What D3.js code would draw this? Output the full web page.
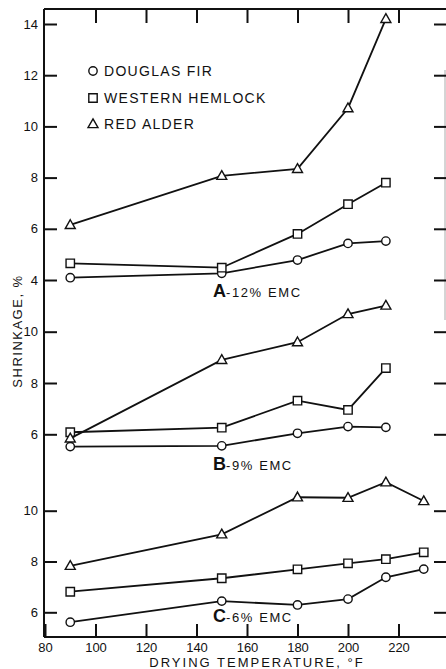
<!DOCTYPE html>
<html>
<head>
<meta charset="utf-8">
<script src="https://cdn.jsdelivr.net/npm/d3@7"></script>
<style>
    html, body { margin: 0; padding: 0; background: #fff; }
    #chart { width: 446px; height: 669px; }
    text { font-family: "Liberation Sans", "DejaVu Sans", Arial, sans-serif; fill: #111; }
</style>
</head>
<body>
<div id="chart"></div>
<script>
// Drying temperature, deg F
const temps = [90, 150, 180, 200, 215, 230];
const xTicks = [80, 100, 120, 140, 160, 180, 200, 220];

const species = ['DOUGLAS FIR', 'WESTERN HEMLOCK', 'RED ALDER'];
const markers = ['circle', 'square', 'triangle'];

// A - 12% EMC (no 230 F run)
const firA = [4.09, 4.26, 4.78, 5.43, 5.52];
const hemlockA = [4.65, 4.48, 5.80, 6.96, 7.80];
const alderA = [6.15, 8.07, 8.34, 10.71, 14.2];
const ticksA = [4, 6, 8, 10, 12, 14];

// B - 9% EMC
const firB = [5.52, 5.55, 6.04, 6.30, 6.27];
const hemlockB = [6.08, 6.26, 7.31, 6.95, 8.58];
const alderB = [5.84, 8.90, 9.59, 10.69, 11.02];
const ticksB = [6, 8, 10];

// C - 6% EMC
const firC = [5.61, 6.44, 6.29, 6.52, 7.38, 7.70];
const hemlockC = [6.81, 7.34, 7.69, 7.93, 8.09, 8.36];
const alderC = [7.83, 9.07, 10.53, 10.51, 11.12, 10.38];
const ticksC = [6, 8, 10];

const panelLetters = ['A', 'B', 'C'];
const panelNotes = ['-12% EMC', '-9% EMC', '-6% EMC'];

const width = 446;
const height = 669;
const frame = { left: 44, right: 445, top: 9, bottom: 637 };

const svg = d3.select('#chart')
    .append('svg')
    .attr('width', width)
    .attr('height', height);

const x = d3.scaleLinear().domain([80, 220]).range([45, 398.5]);

// one stacked axis, three offset value ranges (about 25.6 px per %)
const panels = [
    { series: [firA, hemlockA, alderA], ticks: ticksA,
      y: d3.scaleLinear().domain([4, 14]).range([280, 24]), labelY: 297 },
    { series: [firB, hemlockB, alderB], ticks: ticksB,
      y: d3.scaleLinear().domain([6, 10]).range([434.3, 331.7]), labelY: 470 },
    { series: [firC, hemlockC, alderC], ticks: ticksC,
      y: d3.scaleLinear().domain([6, 10]).range([612.3, 510.7]), labelY: 622 }
];

// Frame lines
svg.append('line')
    .attr('x1', frame.left).attr('x2', width)
    .attr('y1', frame.top).attr('y2', frame.top)
    .attr('stroke', '#111').attr('stroke-width', 2);
svg.append('line')
    .attr('x1', frame.left).attr('x2', width)
    .attr('y1', frame.bottom).attr('y2', frame.bottom)
    .attr('stroke', '#111').attr('stroke-width', 2);
svg.append('line')
    .attr('x1', frame.left).attr('x2', frame.left)
    .attr('y1', frame.top).attr('y2', frame.bottom)
    .attr('stroke', '#111').attr('stroke-width', 2);
svg.append('line')
    .attr('x1', frame.right).attr('x2', frame.right)
    .attr('y1', 70).attr('y2', 320)
    .attr('stroke', '#aaa').attr('stroke-width', 1);

function styleAxis(g) {
    g.select('.domain').remove();
    g.selectAll('.tick line').attr('stroke', '#111').attr('stroke-width', 2);
    g.selectAll('.tick text')
        .style('font-size', '13px')
        .style('font-family', '"Liberation Sans", "DejaVu Sans", Arial, sans-serif')
        .attr('fill', '#111');
}

// Bottom axis, ticks pointing up
svg.append('g')
    .attr('transform', `translate(0,${frame.bottom})`)
    .call(d3.axisBottom(x).tickValues(xTicks).tickSizeInner(-13).tickSizeOuter(0).tickPadding(6))
    .call(styleAxis);

// Top axis, ticks pointing down, no labels
svg.append('g')
    .attr('transform', `translate(0,${frame.top})`)
    .call(d3.axisTop(x).tickValues(xTicks.slice(1)).tickSizeInner(-14).tickSizeOuter(0).tickFormat(''))
    .call(styleAxis);

panels.forEach((p, pi) => {
    // Left axis
    svg.append('g')
        .attr('transform', `translate(${frame.left},0)`)
        .call(d3.axisLeft(p.y).tickValues(p.ticks).tickFormat(d3.format('d'))
            .tickSizeInner(-13).tickSizeOuter(0).tickPadding(6))
        .call(styleAxis);

    // Right axis ticks
    svg.append('g')
        .attr('transform', `translate(${width},0)`)
        .call(d3.axisRight(p.y).tickValues(p.ticks).tickSizeInner(-12).tickSizeOuter(0).tickFormat(''))
        .call(styleAxis);

    // Lines and markers for each species
    p.series.forEach((vals, si) => {
        const pts = vals.map((v, i) => ({ t: temps[i], v }));

        svg.append('path')
            .datum(pts)
            .attr('fill', 'none')
            .attr('stroke', '#111')
            .attr('stroke-width', 1.8)
            .attr('d', d3.line().x(d => x(d.t)).y(d => p.y(d.v)));

        svg.selectAll(null)
            .data(pts)
            .enter()
            .append('path')
            .attr('transform', d => `translate(${x(d.t)},${p.y(d.v)})`)
            .attr('d', markerPath(markers[si]))
            .attr('fill', '#fff')
            .attr('stroke', '#111')
            .attr('stroke-width', 1.4);
    });

    // Panel label
    const lbl = svg.append('text')
        .attr('x', 213)
        .attr('y', p.labelY);
    lbl.append('tspan')
        .style('font-size', '18px')
        .style('font-weight', 'bold')
        .text(panelLetters[pi]);
    lbl.append('tspan')
        .style('font-size', '13px')
        .style('letter-spacing', '1.6px')
        .text(panelNotes[pi]);
});

function markerPath(kind) {
    if (kind === 'circle') return d3.symbol(d3.symbolCircle, 55)();
    if (kind === 'square') return 'M-4.2,-4.2H4.2V4.2H-4.2Z';
    return 'M0,-5.2L5,3.6H-5Z';
}

// Legend
const legendY = [71, 98, 124];
species.forEach((name, i) => {
    svg.append('path')
        .attr('transform', `translate(93,${legendY[i]})`)
        .attr('d', markerPath(markers[i]))
        .attr('fill', '#fff')
        .attr('stroke', '#111')
        .attr('stroke-width', 1.4);
    svg.append('text')
        .attr('x', 104)
        .attr('y', legendY[i])
        .attr('dy', '0.36em')
        .style('font-size', '14px')
        .style('letter-spacing', '1.3px')
        .text(name);
});

// Axis titles
svg.append('text')
    .attr('x', 257)
    .attr('y', 667)
    .attr('text-anchor', 'middle')
    .style('font-size', '13px')
    .style('letter-spacing', '2px')
    .text('DRYING TEMPERATURE, °F');

svg.append('text')
    .attr('transform', 'translate(22,331) rotate(-90)')
    .attr('text-anchor', 'middle')
    .style('font-size', '13px')
    .style('letter-spacing', '1.5px')
    .text('SHRINKAGE, %');
</script>
</body>
</html>
